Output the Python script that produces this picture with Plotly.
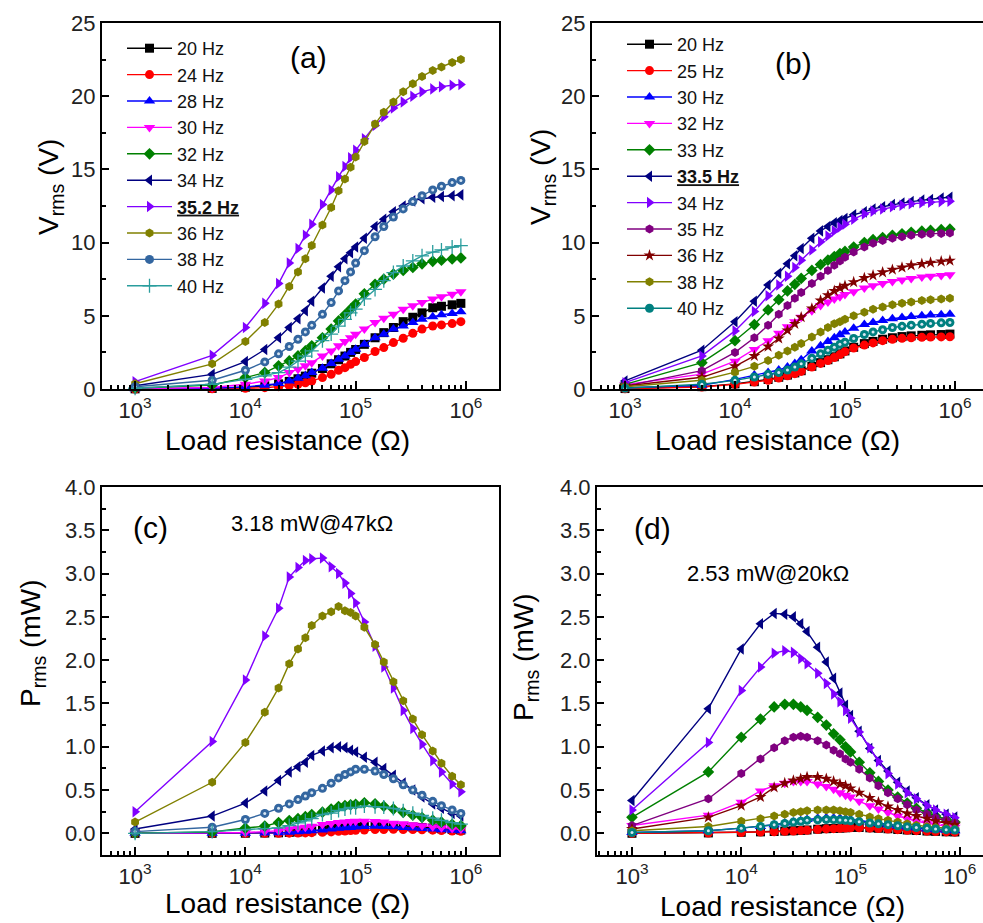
import plotly.graph_objects as go

W, H = 983, 923

# load resistance (ohm), shared by every series
R = [1e3, 5e3, 1e4, 1.5e4, 2e4, 2.5e4, 3e4, 3.5e4, 4e4, 5e4, 6e4, 7e4, 8e4, 9e4,
     1e5, 1.2e5, 1.5e5, 1.8e5, 2.2e5, 2.7e5, 3.3e5, 4e5, 5e5, 6e5, 7.5e5, 9e5]

# ---- panel (a): Vrms (V) ----
va_20 = [0.01, 0.04, 0.12, 0.22, 0.35, 0.52, 0.7, 0.88, 1.08, 1.4, 1.72, 2.0, 2.25, 2.5, 2.7, 3.05, 3.5, 3.85, 4.2, 4.6, 4.9, 5.2, 5.55, 5.65, 5.75, 5.85]
va_24 = [0.0, 0.02, 0.05, 0.09, 0.16, 0.23, 0.32, 0.43, 0.55, 0.78, 1.0, 1.28, 1.46, 1.69, 1.87, 2.15, 2.56, 2.83, 3.17, 3.47, 3.8, 4.09, 4.3, 4.38, 4.47, 4.6]
va_28 = [0.01, 0.05, 0.14, 0.25, 0.37, 0.55, 0.73, 0.9, 1.12, 1.42, 1.74, 2.03, 2.26, 2.5, 2.72, 3.06, 3.5, 3.74, 4.09, 4.3, 4.54, 4.77, 4.93, 5.07, 5.16, 5.27]
va_30 = [0.02, 0.1, 0.32, 0.55, 0.78, 1.12, 1.35, 1.58, 1.8, 2.26, 2.6, 2.95, 3.24, 3.5, 3.74, 4.1, 4.54, 4.84, 5.1, 5.45, 5.68, 5.9, 6.14, 6.3, 6.48, 6.64]
va_32 = [0.05, 0.27, 0.78, 1.12, 1.58, 1.92, 2.26, 2.6, 2.95, 3.5, 4.1, 4.65, 5.07, 5.45, 5.8, 6.5, 7.15, 7.5, 7.85, 8.1, 8.3, 8.55, 8.72, 8.8, 8.88, 8.95]
va_34 = [0.22, 1.0, 1.87, 2.7, 3.5, 4.2, 4.8, 5.35, 6.0, 6.9, 7.7, 8.35, 8.9, 9.3, 9.7, 10.3, 11.1, 11.6, 12.1, 12.5, 12.85, 13.0, 13.1, 13.15, 13.2, 13.26]
va_352 = [0.5, 2.3, 4.2, 5.85, 7.2, 8.6, 9.6, 10.5, 11.25, 12.6, 13.6, 14.5, 15.2, 15.8, 16.3, 17.1, 18.0, 18.6, 19.2, 19.6, 20.0, 20.3, 20.5, 20.65, 20.75, 20.8]
va_36 = [0.36, 1.72, 3.24, 4.55, 5.8, 7.0, 8.0, 8.9, 9.8, 11.2, 12.4, 13.55, 14.35, 15.15, 15.85, 16.9, 18.1, 18.9, 19.6, 20.3, 20.85, 21.35, 21.75, 22.0, 22.3, 22.5]
va_38 = [0.15, 0.6, 1.28, 1.85, 2.4, 2.9, 3.4, 3.9, 4.35, 5.1, 5.9, 6.7, 7.4, 8.0, 8.6, 9.45, 10.4, 11.1, 11.75, 12.3, 12.8, 13.2, 13.6, 13.85, 14.1, 14.25]
va_40 = [0.05, 0.32, 0.66, 0.9, 1.12, 1.5, 1.9, 2.25, 2.6, 3.3, 3.75, 4.3, 4.75, 5.2, 5.45, 6.15, 6.8, 7.4, 7.95, 8.4, 8.75, 9.1, 9.35, 9.5, 9.7, 9.8]

# ---- panel (c): Prms (mW) ----
pc_20 = [0.0, 0.0003, 0.0014, 0.0032, 0.006, 0.011, 0.016, 0.022, 0.029, 0.039, 0.049, 0.057, 0.063, 0.069, 0.073, 0.078, 0.082, 0.082, 0.08, 0.078, 0.073, 0.068, 0.062, 0.053, 0.044, 0.038]
pc_24 = [0.0, 0.0001, 0.0003, 0.0005, 0.0013, 0.002, 0.0034, 0.0053, 0.0076, 0.012, 0.017, 0.023, 0.027, 0.032, 0.035, 0.039, 0.044, 0.044, 0.046, 0.045, 0.044, 0.042, 0.037, 0.032, 0.027, 0.024]
pc_28 = [0.0, 0.0005, 0.002, 0.004, 0.0068, 0.012, 0.018, 0.023, 0.031, 0.04, 0.05, 0.059, 0.064, 0.069, 0.074, 0.078, 0.082, 0.078, 0.076, 0.068, 0.062, 0.057, 0.049, 0.043, 0.035, 0.031]
pc_30 = [0.0, 0.002, 0.01, 0.02, 0.03, 0.05, 0.061, 0.071, 0.081, 0.102, 0.113, 0.124, 0.131, 0.136, 0.14, 0.14, 0.137, 0.13, 0.118, 0.11, 0.098, 0.087, 0.075, 0.066, 0.056, 0.049]
pc_32 = [0.0025, 0.015, 0.061, 0.084, 0.125, 0.148, 0.17, 0.193, 0.218, 0.245, 0.28, 0.309, 0.321, 0.33, 0.336, 0.352, 0.341, 0.313, 0.28, 0.243, 0.209, 0.183, 0.152, 0.129, 0.105, 0.089]
pc_34 = [0.05, 0.2, 0.35, 0.49, 0.61, 0.71, 0.77, 0.82, 0.9, 0.95, 0.99, 1.0, 0.99, 0.96, 0.94, 0.88, 0.82, 0.75, 0.67, 0.58, 0.5, 0.42, 0.34, 0.29, 0.23, 0.2]
pc_352 = [0.25, 1.06, 1.77, 2.28, 2.6, 2.96, 3.07, 3.15, 3.17, 3.18, 3.08, 3.0, 2.89, 2.77, 2.66, 2.44, 2.16, 1.92, 1.68, 1.42, 1.21, 1.03, 0.84, 0.71, 0.57, 0.48]
pc_36 = [0.13, 0.59, 1.05, 1.4, 1.68, 1.96, 2.13, 2.26, 2.4, 2.51, 2.56, 2.62, 2.57, 2.55, 2.51, 2.38, 2.18, 1.98, 1.75, 1.53, 1.32, 1.14, 0.95, 0.81, 0.66, 0.56]
pc_38 = [0.02, 0.07, 0.16, 0.23, 0.29, 0.34, 0.39, 0.43, 0.47, 0.52, 0.58, 0.64, 0.68, 0.71, 0.74, 0.74, 0.72, 0.68, 0.63, 0.56, 0.5, 0.44, 0.37, 0.32, 0.27, 0.23]
pc_40 = [0.0, 0.02, 0.044, 0.054, 0.063, 0.09, 0.12, 0.145, 0.169, 0.218, 0.234, 0.264, 0.282, 0.3, 0.297, 0.315, 0.308, 0.304, 0.287, 0.261, 0.232, 0.207, 0.175, 0.15, 0.125, 0.107]

# ---- panel (b): Vrms (V) ----
vb_20 = [0.03, 0.16, 0.35, 0.5, 0.65, 0.8, 0.95, 1.1, 1.25, 1.55, 1.8, 2.0, 2.2, 2.4, 2.6, 2.85, 3.1, 3.25, 3.4, 3.5, 3.58, 3.63, 3.67, 3.7, 3.72, 3.75]
vb_25 = [0.02, 0.14, 0.32, 0.47, 0.6, 0.75, 0.9, 1.05, 1.2, 1.5, 1.75, 1.95, 2.15, 2.35, 2.55, 2.8, 3.0, 3.15, 3.3, 3.4, 3.46, 3.5, 3.53, 3.55, 3.56, 3.57]
vb_30 = [0.09, 0.25, 0.66, 0.96, 1.12, 1.3, 1.5, 1.75, 2.0, 2.6, 2.95, 3.25, 3.5, 3.7, 3.9, 4.15, 4.4, 4.55, 4.68, 4.8, 4.88, 4.95, 5.0, 5.05, 5.08, 5.1]
vb_32 = [0.3, 1.02, 1.9, 2.7, 3.3, 3.8, 4.25, 4.6, 4.9, 5.35, 5.7, 5.95, 6.15, 6.3, 6.45, 6.65, 6.9, 7.05, 7.2, 7.35, 7.45, 7.55, 7.65, 7.7, 7.75, 7.8]
vb_33 = [0.32, 1.8, 3.3, 4.4, 5.4, 6.1, 6.7, 7.15, 7.55, 8.1, 8.5, 8.8, 9.05, 9.25, 9.4, 9.7, 10.0, 10.2, 10.35, 10.5, 10.6, 10.7, 10.78, 10.83, 10.88, 10.92]
vb_335 = [0.55, 2.65, 4.6, 6.0, 7.1, 7.9, 8.55, 9.1, 9.6, 10.3, 10.8, 11.1, 11.35, 11.5, 11.65, 11.9, 12.1, 12.3, 12.45, 12.6, 12.7, 12.8, 12.9, 12.95, 13.05, 13.1]
vb_34 = [0.43, 2.26, 3.97, 5.3, 6.37, 7.1, 7.7, 8.3, 8.8, 9.5, 10.05, 10.45, 10.8, 11.05, 11.25, 11.6, 11.95, 12.15, 12.3, 12.45, 12.55, 12.65, 12.72, 12.76, 12.8, 12.82]
vb_35 = [0.2, 1.25, 2.5, 3.5, 4.35, 5.1, 5.7, 6.2, 6.6, 7.2, 7.7, 8.1, 8.45, 8.75, 9.0, 9.35, 9.7, 9.95, 10.15, 10.3, 10.4, 10.5, 10.57, 10.6, 10.63, 10.65]
vb_36 = [0.2, 0.8, 1.55, 2.26, 2.9, 3.45, 4.0, 4.45, 4.9, 5.5, 6.05, 6.4, 6.7, 6.9, 7.05, 7.3, 7.58, 7.76, 7.97, 8.15, 8.3, 8.45, 8.55, 8.63, 8.72, 8.77]
vb_38 = [0.15, 0.6, 1.15, 1.55, 1.95, 2.3, 2.6, 2.85, 3.1, 3.55, 3.9, 4.2, 4.45, 4.6, 4.77, 5.0, 5.25, 5.45, 5.6, 5.75, 5.85, 5.95, 6.05, 6.1, 6.15, 6.2]
vb_40 = [0.05, 0.32, 0.59, 0.82, 1.0, 1.12, 1.3, 1.5, 1.72, 2.1, 2.4, 2.65, 2.85, 3.05, 3.2, 3.45, 3.72, 3.9, 4.05, 4.2, 4.28, 4.36, 4.43, 4.48, 4.52, 4.54]

# ---- panel (d): Prms (mW) ----
pd_20 = [0.001, 0.005, 0.012, 0.017, 0.021, 0.026, 0.03, 0.035, 0.039, 0.048, 0.054, 0.057, 0.06, 0.064, 0.068, 0.068, 0.064, 0.059, 0.053, 0.045, 0.039, 0.033, 0.027, 0.023, 0.018, 0.016]
pd_25 = [0.0, 0.004, 0.01, 0.015, 0.018, 0.023, 0.027, 0.032, 0.036, 0.045, 0.051, 0.054, 0.058, 0.061, 0.065, 0.065, 0.06, 0.055, 0.05, 0.043, 0.036, 0.031, 0.025, 0.021, 0.017, 0.014]
pd_30 = [0.01, 0.03, 0.06, 0.08, 0.1, 0.12, 0.13, 0.145, 0.16, 0.175, 0.18, 0.178, 0.175, 0.17, 0.163, 0.148, 0.13, 0.115, 0.1, 0.086, 0.073, 0.062, 0.051, 0.043, 0.035, 0.029]
pd_32 = [0.09, 0.21, 0.36, 0.49, 0.55, 0.58, 0.6, 0.6, 0.6, 0.57, 0.54, 0.51, 0.47, 0.44, 0.42, 0.37, 0.32, 0.28, 0.24, 0.2, 0.17, 0.14, 0.12, 0.1, 0.08, 0.07]
pd_33 = [0.185, 0.71, 1.11, 1.32, 1.46, 1.49, 1.49, 1.46, 1.42, 1.34, 1.25, 1.15, 1.08, 1.0, 0.94, 0.82, 0.7, 0.6, 0.5, 0.42, 0.35, 0.29, 0.24, 0.2, 0.16, 0.13]
pd_335 = [0.38, 1.44, 2.13, 2.42, 2.54, 2.53, 2.5, 2.42, 2.33, 2.15, 1.98, 1.79, 1.62, 1.48, 1.36, 1.18, 0.98, 0.84, 0.72, 0.59, 0.49, 0.41, 0.33, 0.27, 0.22, 0.19]
pd_34 = [0.27, 1.05, 1.65, 1.92, 2.08, 2.11, 2.09, 2.02, 1.96, 1.85, 1.73, 1.61, 1.52, 1.42, 1.33, 1.17, 0.99, 0.83, 0.69, 0.57, 0.47, 0.4, 0.32, 0.27, 0.22, 0.18]
pd_35 = [0.09, 0.4, 0.69, 0.86, 0.99, 1.07, 1.11, 1.12, 1.11, 1.07, 1.02, 0.96, 0.92, 0.86, 0.82, 0.74, 0.64, 0.55, 0.47, 0.4, 0.33, 0.27, 0.22, 0.18, 0.15, 0.12]
pd_36 = [0.05, 0.185, 0.32, 0.42, 0.53, 0.58, 0.61, 0.63, 0.65, 0.65, 0.63, 0.6, 0.57, 0.55, 0.52, 0.47, 0.41, 0.36, 0.31, 0.27, 0.23, 0.2, 0.17, 0.14, 0.12, 0.1]
pd_38 = [0.03, 0.08, 0.14, 0.17, 0.2, 0.22, 0.24, 0.25, 0.26, 0.27, 0.27, 0.27, 0.26, 0.25, 0.24, 0.22, 0.19, 0.17, 0.15, 0.13, 0.11, 0.095, 0.08, 0.068, 0.058, 0.05]
pd_40 = [0.01, 0.03, 0.06, 0.08, 0.1, 0.115, 0.13, 0.14, 0.15, 0.157, 0.16, 0.158, 0.155, 0.15, 0.145, 0.135, 0.12, 0.11, 0.1, 0.088, 0.077, 0.068, 0.058, 0.05, 0.043, 0.038]

names_a = ["20 Hz", "24 Hz", "28 Hz", "30 Hz", "32 Hz", "34 Hz", "<b><u>35.2 Hz</u></b>", "36 Hz", "38 Hz", "40 Hz"]
names_b = ["20 Hz", "25 Hz", "30 Hz", "32 Hz", "33 Hz", "<b><u>33.5 Hz</u></b>", "34 Hz", "35 Hz", "36 Hz", "38 Hz", "40 Hz"]

volts_a = [va_20, va_24, va_28, va_30, va_32, va_34, va_352, va_36, va_38, va_40]
power_c = [pc_20, pc_24, pc_28, pc_30, pc_32, pc_34, pc_352, pc_36, pc_38, pc_40]
volts_b = [vb_20, vb_25, vb_30, vb_32, vb_33, vb_335, vb_34, vb_35, vb_36, vb_38, vb_40]
power_d = [pd_20, pd_25, pd_30, pd_32, pd_33, pd_335, pd_34, pd_35, pd_36, pd_38, pd_40]

# styles (Origin-like palette)
colors_a = ["#000000", "#ff0000", "#0000ff", "#ff00ff", "#008000", "#000080", "#8000ff", "#808000", "#3366a0", "#2a9d9d"]
symbols_a = ["square", "circle", "triangle-up", "triangle-down", "diamond", "triangle-left", "triangle-right", "hexagon", "circle", "cross-thin"]
colors_b = ["#000000", "#ff0000", "#0000ff", "#ff00ff", "#008000", "#000080", "#8000ff", "#800080", "#800000", "#808000", "#008080"]
symbols_b = ["square", "circle", "triangle-up", "triangle-down", "diamond", "triangle-left", "triangle-right", "hexagon", "star", "hexagon", "circle"]
dotted_a = "38 Hz"
dotted_b = "40 Hz"

FONT = "Arial, Liberation Sans, sans-serif"
fig = go.Figure()


def add_series(name, ys, color, symbol, xa, ya, legend, show, dotted):
    msize = 10 if symbol.startswith("triangle") else 9
    marker = dict(symbol=symbol, size=msize, color=color, line=dict(width=0, color=color))
    if symbol == "cross-thin":
        marker = dict(symbol=symbol, size=10, color=color, line=dict(width=1.3, color=color))
    fig.add_trace(go.Scatter(
        x=R, y=ys, name=name, mode="lines+markers", xaxis=xa, yaxis=ya,
        line=dict(color=color, width=1.4), marker=marker, legend=legend,
        showlegend=show, cliponaxis=False))
    if dotted:
        fig.add_trace(go.Scatter(
            x=R, y=ys, mode="markers", xaxis=xa, yaxis=ya, showlegend=False,
            marker=dict(size=3, color="#d8e6f2"), hoverinfo="skip", cliponaxis=False))


for nm, v, p, c, s in zip(names_a, volts_a, power_c, colors_a, symbols_a):
    add_series(nm, v, c, s, "x", "y", "legend", True, nm == dotted_a)
    add_series(nm, p, c, s, "x3", "y3", "legend", False, nm == dotted_a)
for nm, v, p, c, s in zip(names_b, volts_b, power_d, colors_b, symbols_b):
    add_series(nm, v, c, s, "x2", "y2", "legend2", True, nm == dotted_b)
    add_series(nm, p, c, s, "x4", "y4", "legend2", False, nm == dotted_b)

# log-axis tick positions
major_x = [1e3, 1e4, 1e5, 1e6]
major_txt = ["10<sup>3</sup>", "10<sup>4</sup>", "10<sup>5</sup>", "10<sup>6</sup>"]
minor_x = [m * 10 ** e for e in range(2, 7) for m in range(2, 10)]


def xaxis(domain, rng, anchor):
    return dict(type="log", domain=domain, range=rng, anchor=anchor, automargin=False,
                tickmode="array", tickvals=major_x, ticktext=major_txt,
                ticks="inside", ticklen=8, tickwidth=1.5, tickcolor="black",
                minor=dict(tickmode="array", tickvals=minor_x, ticks="inside", ticklen=4,
                           tickwidth=1.5, tickcolor="black"),
                showline=True, linewidth=2.2, linecolor="black", mirror=True,
                showgrid=False, zeroline=False, ticklabeloverflow="allow",
                tickfont=dict(family=FONT, size=22, color="#222"))


def yaxis(domain, rng, dtick, mdtick, fmt, anchor, mirror=True):
    return dict(domain=domain, range=rng, tick0=0, dtick=dtick, tickformat=fmt, anchor=anchor,
                automargin=False, ticks="inside", ticklen=7, tickwidth=1.5, tickcolor="black",
                minor=dict(tick0=0, dtick=mdtick, ticks="inside", ticklen=4, tickwidth=1.5,
                           tickcolor="black"),
                showline=True, linewidth=2.2, linecolor="black", mirror=mirror,
                showgrid=False, zeroline=False,
                tickfont=dict(family=FONT, size=22, color="#222"))


top = [1 - 389 / H, 1 - 23 / H]
bot = [1 - 855 / H, 1 - 487 / H]
fig.update_layout(
    xaxis=xaxis([102 / W, 499 / W], [2.7, 6.3], "y"),
    xaxis2=xaxis([592 / W, 1.0], [2.7, 6.255], "y2"),
    xaxis3=xaxis([102 / W, 499 / W], [2.7, 6.3], "y3"),
    xaxis4=xaxis([597 / W, 1.0], [2.68, 6.212], "y4"),
    yaxis=yaxis(top, [0, 25], 5, 2.5, "d", "x"),
    yaxis2=yaxis(top, [0, 25], 5, 2.5, "d", "x2", mirror=False),
    yaxis3=yaxis(bot, [-0.25, 4.0], 0.5, 0.25, ".1f", "x3"),
    yaxis4=yaxis(bot, [-0.25, 4.0], 0.5, 0.25, ".1f", "x4", mirror=False),
)

leg = dict(font=dict(family=FONT, size=18, color="#111"), bgcolor="rgba(0,0,0,0)",
           xanchor="left", yanchor="top", tracegroupgap=0, itemwidth=45)
fig.update_layout(
    legend=leg | dict(x=122 / W, y=1 - 30 / H),
    legend2=leg | dict(x=622 / W, y=1 - 26 / H),
)


def label(text, x, y, size, angle=0):
    fig.add_annotation(text=text, x=x / W, y=1 - y / H, xref="paper", yref="paper",
                       showarrow=False, textangle=angle, xanchor="center", yanchor="middle",
                       font=dict(family=FONT, size=size, color="black"))


label("(a)", 308, 58, 30)
label("(b)", 793, 63, 30)
label("(c)", 150, 527, 30)
label("(d)", 652, 528, 30)
label("3.18 mW@47kΩ", 312, 523, 22)
label("2.53 mW@20kΩ", 768, 573, 22)
label("Load resistance (Ω)", 287, 440, 28)
label("Load resistance (Ω)", 777, 440, 28)
label("Load resistance (Ω)", 287, 903, 28)
label("Load resistance (Ω)", 782, 906, 28)
label("V<sub>rms</sub> (V)", 50, 187, 28, -90)
label("V<sub>rms</sub> (V)", 542, 177, 28, -90)
label("P<sub>rms</sub> (mW)", 32, 643, 28, -90)
label("P<sub>rms</sub> (mW)", 525, 657, 28, -90)

fig.update_layout(width=W, height=H, margin=dict(l=0, r=0, t=0, b=0),
                  paper_bgcolor="white", plot_bgcolor="white",
                  font=dict(family=FONT, color="black"))

# drop the browser's default 8px body margin so the figure sits at the page corner
fig.write_html("out.html", config={"displayModeBar": False},
               post_script="document.body.style.margin = '0px';")
